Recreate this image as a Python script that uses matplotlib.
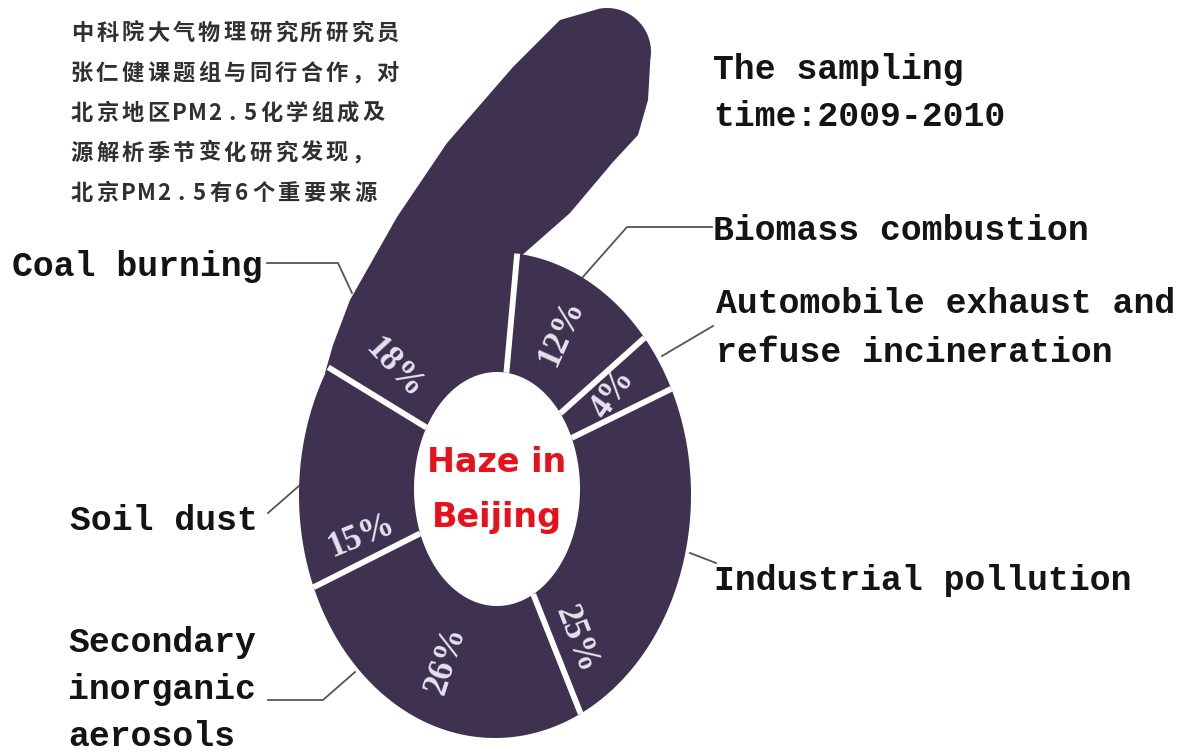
import matplotlib
matplotlib.use('Agg')   # no display, write png only
import matplotlib.pyplot as plt
import numpy as np

# PM2.5 sources in Beijing (2009-2010), clockwise starting at the top of the ring
sources = [['Biomass combustion'],
           ['Automobile exhaust and', 'refuse incineration'],
           ['Industrial pollution'],
           ['Secondary', 'inorganic', 'aerosols'],
           ['Soil dust'],
           ['Coal burning']]
shares = [12, 4, 25, 26, 15, 18]

intro_lines = ['中科院大气物理研究所研究员',
               '张仁健课题组与同行合作，对',
               '北京地区PM2.5化学组成及',
               '源解析季节变化研究发现，',
               '北京PM2.5有6个重要来源']
period = ['The sampling', 'time:2009-2010']
centre_title = ['Haze in', 'Beijing']

PURPLE = '#3f3150'
INK = '#141414'
LEAD = '#555555'

# outer / inner ellipse of the "6" ring, in pixel coords (cx, cy, a, b)
OUTER = (495, 495, 196, 243)
INNER = (497, 489, 83, 117)
START = 83.5          # parametric angle of the first slice edge


def ell(e, t):
    r = np.radians(t)
    return e[0] + e[2] * np.cos(r), e[1] - e[3] * np.sin(r)


fig = plt.figure(figsize=(11.84, 7.53), dpi=100)
ax = fig.add_axes([0, 0, 1, 1])
ax.set_xlim(0, 1184)
ax.set_ylim(753, 0)
ax.axis('off')


def mono(x, y, lines, step=48.5):
    for k, s in enumerate(lines):
        ax.text(x, y + step * k, s, ha='left', va='baseline',
                family='Liberation Mono', fontweight='bold', fontsize=25,
                color=INK)


# the tail of the "6" belongs to the coal slice
stem_x = [325, 333, 350, 397, 447, 513, 560]
stem_y = [373, 345, 300, 217, 143, 67, 20]
cap = np.radians(np.linspace(100, -10, 30))
stem_x += list(607 + 44 * np.cos(cap))
stem_y += list(52 - 44 * np.sin(cap))
stem_x += [648, 638, 613, 570, 512, 505, 420]
stem_y += [100, 135, 162, 213, 264, 320, 410]
ax.fill(stem_x, stem_y, color=PURPLE, lw=0, zorder=1)

# ring slices
bounds = START - 3.6 * np.concatenate([[0], np.cumsum(shares)])
for i in range(len(shares)):
    ts = np.linspace(bounds[i], bounds[i + 1], 80)
    ox, oy = ell(OUTER, ts)
    ix, iy = ell(INNER, ts[::-1])
    ax.fill(np.r_[ox, ix], np.r_[oy, iy], color=PURPLE, lw=0, zorder=2)

# white gaps between the slices
for t in bounds[:-1]:
    ix, iy = ell(INNER, t)
    ox, oy = ell(OUTER, t)
    ax.plot([ix, ox], [iy, oy], color='white', lw=4.2,
            solid_capstyle='butt', zorder=3)

# percentage labels inside the ring
shift = [0, 0, -36, 0, 19, 21]
rot = [66, 54, -69, 72, 22, -47]
for i, s in enumerate(shares):
    tm = (bounds[i] + bounds[i + 1]) / 2 + shift[i]
    ix, iy = ell(INNER, tm)
    ox, oy = ell(OUTER, tm)
    ax.text((ix + ox) / 2, (iy + oy) / 2, '%d%%' % s, rotation=rot[i],
            rotation_mode='anchor', ha='center', va='center',
            family='Liberation Serif', fontweight='bold', fontsize=25,
            color='#e4e4ee', zorder=4)

# red title in the hole
for k, line in enumerate(centre_title):
    ax.text(497, 462 + 55 * k, line, ha='center', va='center', fontsize=24,
            fontweight='bold', family='DejaVu Sans', color='#e8101a', zorder=4)

# chinese intro, set char by char to get the wide spacing
for k, line in enumerate(intro_lines):
    x = 69
    for ch in line:
        adv = 17.5 if ord(ch) < 128 else 25.5
        ax.text(x + adv / 2, 33 + 40 * k, ch, ha='center', va='center',
                fontsize=16, fontweight='bold', color='#303030',
                family=['Noto Sans CJK SC', 'DejaVu Sans'])
        x += adv

mono(713, 79, period, step=47)
mono(713, 240, sources[0])
mono(716, 313, sources[1])
mono(714, 590, sources[2])
mono(68, 652, sources[3], step=47)
mono(70, 530, sources[4])
mono(12, 276, sources[5])

# leader lines
leaders = [
    ([712, 627, 582], [227, 227, 278]),
    ([713, 662], [326, 356]),
    ([716, 690], [563, 553]),
    ([268, 323, 355], [700, 700, 672]),
    ([268, 300], [513, 485]),
    ([267, 338, 352], [263, 263, 293]),
]
for lx, ly in leaders:
    ax.plot(lx, ly, color=LEAD, lw=1.3, zorder=0)

plt.savefig('out.png', dpi=100, facecolor='white')
